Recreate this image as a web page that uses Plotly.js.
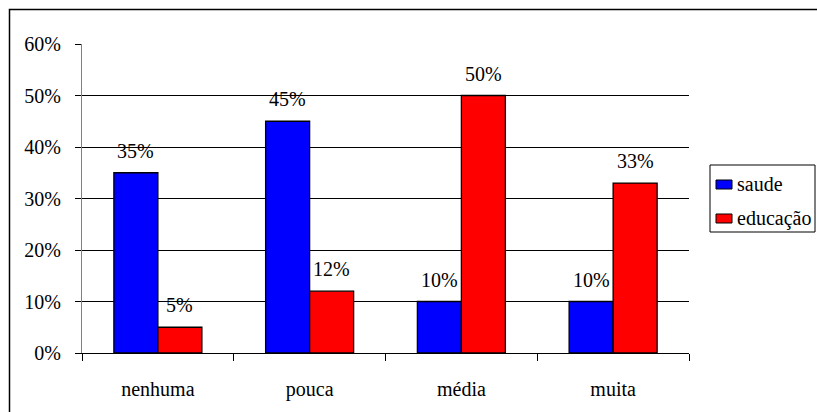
<!DOCTYPE html>
<html>
<head>
<meta charset="utf-8">
<script src="https://cdn.plot.ly/plotly-3.0.1.min.js"></script>
<style>
html,body{margin:0;padding:0;background:#fff;}
#chart{width:817px;height:412px;}
</style>
</head>
<body>
<div id="chart"></div>
<script>
var categories = ["nenhuma", "pouca", "média", "muita"];
var saude = [0.35, 0.45, 0.10, 0.10];
var educacao = [0.05, 0.12, 0.50, 0.33];
var seriesNames = ["saude", "educação"];
var seriesColors = ["#0000FF", "#FF0000"];
var yTickVals = [0, 0.1, 0.2, 0.3, 0.4, 0.5, 0.6];
var yTickText = ["0%", "10%", "20%", "30%", "40%", "50%", "60%"];

var FONT = "Liberation Serif";
var FS = 20;

// plot-area geometry (pixels)
var L = 82, R = 128, T = 44, B = 59, W = 817, H = 412;
var PW = W - L - R, PH = H - T - B;
function px(x) { return (x - L) / PW; }
function py(y) { return (H - B - y) / PH; }

var traces = [
  {type: "bar", name: seriesNames[0], x: categories, y: saude,
   marker: {color: seriesColors[0], line: {color: "#000", width: 1.3}}, hoverinfo: "none"},
  {type: "bar", name: seriesNames[1], x: categories, y: educacao,
   marker: {color: seriesColors[1], line: {color: "#000", width: 1.3}}, hoverinfo: "none"}
];

var annotations = [];
[saude, educacao].forEach(function (vals, si) {
  vals.forEach(function (v, i) {
    annotations.push({
      x: categories[i], y: v, xref: "x", yref: "y",
      text: Math.round(v * 100) + "%",
      showarrow: false, yanchor: "bottom",
      xshift: si === 0 ? -22 : 22, yshift: 9,
      font: {family: FONT, size: FS, color: "#000"}
    });
  });
});

var shapes = [
  // outer chart border (extends past right/bottom edges as in the reference)
  {type: "rect", xref: "paper", yref: "paper",
   x0: px(9.5), x1: px(840), y0: py(440), y1: py(9.5),
   line: {color: "#000", width: 1.5}, layer: "below"},
  // legend box
  {type: "rect", xref: "paper", yref: "paper",
   x0: px(710), x1: px(815), y0: py(232), y1: py(165),
   line: {color: "#000", width: 1}, fillcolor: "#fff"}
];

// legend entries
var legendRows = [184, 218];
seriesNames.forEach(function (name, i) {
  var cy = legendRows[i];
  shapes.push({type: "rect", xref: "paper", yref: "paper",
    x0: px(716), x1: px(732), y0: py(cy + 5), y1: py(cy - 4),
    line: {color: "#000", width: 1}, fillcolor: seriesColors[i]});
  annotations.push({x: px(735), y: py(cy), xref: "paper", yref: "paper",
    xanchor: "left", yanchor: "middle", showarrow: false, text: name,
    font: {family: FONT, size: FS, color: "#000"}});
});

var layout = {
  width: W, height: H,
  margin: {l: L, r: R, t: T, b: B, autoexpand: false},
  paper_bgcolor: "#fff", plot_bgcolor: "#fff",
  font: {family: FONT, size: FS, color: "#000"},
  barmode: "group", bargap: 0.42, bargroupgap: 0,
  showlegend: false,
  xaxis: {type: "category", showline: true, linecolor: "#000", linewidth: 1,
          ticks: "outside", tickson: "boundaries", ticklen: 7, tickcolor: "#000",
          showgrid: false, ticklabelstandoff: 18,
          tickfont: {family: FONT, size: FS, color: "#000"}},
  yaxis: {range: [0, 0.6], tickvals: yTickVals, ticktext: yTickText,
          showline: true, linecolor: "#808080", linewidth: 1,
          ticks: "outside", ticklen: 6, tickcolor: "#000",
          showgrid: true, gridcolor: "#000", gridwidth: 1, zeroline: false,
          ticklabelstandoff: 10,
          tickfont: {family: FONT, size: FS, color: "#000"}},
  annotations: annotations,
  shapes: shapes
};

Plotly.newPlot("chart", traces, layout, {staticPlot: true, displayModeBar: false});
</script>
</body>
</html>
